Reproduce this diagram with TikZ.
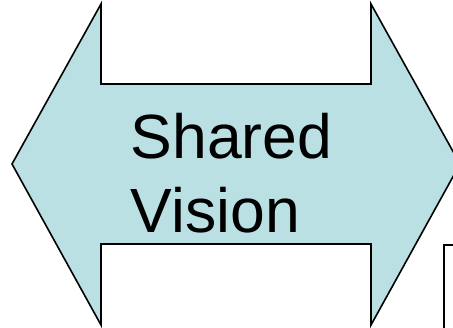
\documentclass[tikz,border=0pt]{standalone}
\usepackage{fontspec}
\setmainfont{Liberation Sans}
\definecolor{arrowfill}{RGB}{186,224,228}
\begin{document}
\begin{tikzpicture}[x=1pt,y=-1pt,
  arrowshape/.style={fill=arrowfill,draw=black,line width=1.6pt,line join=miter},
  boxline/.style={draw=black,line width=2pt},
  label/.style={align=left,anchor=north west,inner sep=0pt,font=\fontsize{62.5}{74.5}\selectfont}]
\useasboundingbox (0,0) rectangle (453,328);
\clip (0,0) rectangle (453,328);
\fill[white] (0,0) rectangle (453,328);
\draw[arrowshape] (12,164) -- (101,4) -- (101,84) -- (371,84) -- (371,4) -- (460,164)
  -- (371,325) -- (371,244) -- (101,244) -- (101,325) -- cycle;
\draw[boxline] (444,345) -- (444,245) -- (470,245);
\node[label] (txt) at (130.5,113) {\rule{0pt}{45pt}Shared\\Vision};
\end{tikzpicture}
\end{document}
